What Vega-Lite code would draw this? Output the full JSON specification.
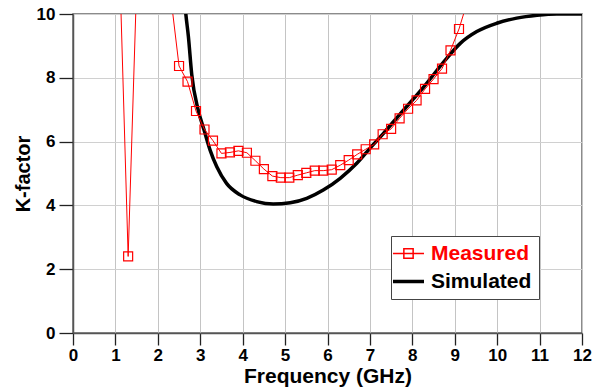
{
  "$schema": "https://vega.github.io/schema/vega-lite/v6.json",
  "width": 509,
  "height": 319,
  "autosize": {"type": "none"},
  "padding": {"left": 73, "top": 14, "right": 21, "bottom": 59},
  "background": "white",
  "config": {
    "font": "Liberation Sans",
    "view": {"stroke": "#666", "strokeWidth": 1.5},
    "axis": {
      "labelFont": "Liberation Sans", "labelFontWeight": "bold", "labelFontSize": 17, "labelColor": "black",
      "titleFont": "Liberation Sans", "titleFontWeight": "bold", "titleColor": "black",
      "domainColor": "#555", "domainWidth": 1.5,
      "ticks": true, "tickOpacity": 1, "tickColor": "#222", "tickWidth": 1.3,
      "labelOverlap": false, "labelFlush": false
    }
  },
  "datasets": {
    "measured": [
      {"f": 1.1, "k": 11.5, "series": "Measured"},
      {"f": 1.3, "k": 2.4, "series": "Measured"},
      {"f": 1.5, "k": 10.9, "series": "Measured"},
      {"f": 1.7, "k": 14, "series": "Measured"},
      {"f": 1.9, "k": 15, "series": "Measured"},
      {"f": 2.1, "k": 13, "series": "Measured"},
      {"f": 2.3, "k": 10.6, "series": "Measured"},
      {"f": 2.5, "k": 8.37, "series": "Measured"},
      {"f": 2.7, "k": 7.88, "series": "Measured"},
      {"f": 2.9, "k": 6.96, "series": "Measured"},
      {"f": 3.1, "k": 6.38, "series": "Measured"},
      {"f": 3.3, "k": 6.03, "series": "Measured"},
      {"f": 3.5, "k": 5.63, "series": "Measured"},
      {"f": 3.7, "k": 5.66, "series": "Measured"},
      {"f": 3.9, "k": 5.71, "series": "Measured"},
      {"f": 4.1, "k": 5.65, "series": "Measured"},
      {"f": 4.3, "k": 5.4, "series": "Measured"},
      {"f": 4.5, "k": 5.14, "series": "Measured"},
      {"f": 4.7, "k": 4.92, "series": "Measured"},
      {"f": 4.9, "k": 4.87, "series": "Measured"},
      {"f": 5.1, "k": 4.87, "series": "Measured"},
      {"f": 5.3, "k": 4.95, "series": "Measured"},
      {"f": 5.5, "k": 5.02, "series": "Measured"},
      {"f": 5.7, "k": 5.09, "series": "Measured"},
      {"f": 5.9, "k": 5.09, "series": "Measured"},
      {"f": 6.1, "k": 5.12, "series": "Measured"},
      {"f": 6.3, "k": 5.26, "series": "Measured"},
      {"f": 6.5, "k": 5.42, "series": "Measured"},
      {"f": 6.7, "k": 5.6, "series": "Measured"},
      {"f": 6.9, "k": 5.76, "series": "Measured"},
      {"f": 7.1, "k": 5.91, "series": "Measured"},
      {"f": 7.3, "k": 6.23, "series": "Measured"},
      {"f": 7.5, "k": 6.4, "series": "Measured"},
      {"f": 7.7, "k": 6.73, "series": "Measured"},
      {"f": 7.9, "k": 7.03, "series": "Measured"},
      {"f": 8.1, "k": 7.29, "series": "Measured"},
      {"f": 8.3, "k": 7.65, "series": "Measured"},
      {"f": 8.5, "k": 7.96, "series": "Measured"},
      {"f": 8.7, "k": 8.29, "series": "Measured"},
      {"f": 8.9, "k": 8.86, "series": "Measured"},
      {"f": 9.1, "k": 9.53, "series": "Measured"},
      {"f": 9.3, "k": 10.4, "series": "Measured"}
    ],
    "simulated": [
      {"f": 2.62, "k": 10.6, "series": "Simulated"},
      {"f": 2.66, "k": 10.0, "series": "Simulated"},
      {"f": 2.72, "k": 9.3, "series": "Simulated"},
      {"f": 2.8, "k": 8.1, "series": "Simulated"},
      {"f": 2.95, "k": 7.0, "series": "Simulated"},
      {"f": 3.09, "k": 6.36, "series": "Simulated"},
      {"f": 3.23, "k": 5.74, "series": "Simulated"},
      {"f": 3.39, "k": 5.21, "series": "Simulated"},
      {"f": 3.62, "k": 4.69, "series": "Simulated"},
      {"f": 3.94, "k": 4.33, "series": "Simulated"},
      {"f": 4.33, "k": 4.12, "series": "Simulated"},
      {"f": 4.72, "k": 4.04, "series": "Simulated"},
      {"f": 5.12, "k": 4.08, "series": "Simulated"},
      {"f": 5.51, "k": 4.22, "series": "Simulated"},
      {"f": 5.9, "k": 4.48, "series": "Simulated"},
      {"f": 6.3, "k": 4.85, "series": "Simulated"},
      {"f": 6.69, "k": 5.32, "series": "Simulated"},
      {"f": 7.0, "k": 5.79, "series": "Simulated"},
      {"f": 7.32, "k": 6.26, "series": "Simulated"},
      {"f": 7.71, "k": 6.86, "series": "Simulated"},
      {"f": 8.26, "k": 7.7, "series": "Simulated"},
      {"f": 8.81, "k": 8.61, "series": "Simulated"},
      {"f": 9.13, "k": 9.08, "series": "Simulated"},
      {"f": 9.52, "k": 9.45, "series": "Simulated"},
      {"f": 9.99, "k": 9.71, "series": "Simulated"},
      {"f": 10.46, "k": 9.87, "series": "Simulated"},
      {"f": 10.94, "k": 9.96, "series": "Simulated"},
      {"f": 11.41, "k": 10.0, "series": "Simulated"},
      {"f": 12, "k": 10.0, "series": "Simulated"}
    ]
  },
  "layer": [
    {
      "data": {"name": "simulated"},
      "mark": {"type": "line", "strokeWidth": 3.5, "interpolate": "monotone", "clip": true},
      "encoding": {
        "x": {
          "field": "f", "type": "quantitative",
          "scale": {"domain": [0, 12], "nice": false},
          "axis": {
            "title": "Frequency (GHz)", "titleFontSize": 21, "titlePadding": 2,
            "values": [0, 0.5, 1, 1.5, 2, 2.5, 3, 3.5, 4, 4.5, 5, 5.5, 6, 6.5, 7, 7.5, 8, 8.5, 9, 9.5, 10, 10.5, 11, 11.5, 12],
            "labelExpr": "datum.value % 1 == 0 ? datum.label : ''",
            "tickSize": 12,
            "tickDash": {"condition": {"test": "datum.value % 1 != 0", "value": [6, 30]}, "value": [30, 0]},
            "gridOpacity": {"condition": {"test": "datum.value % 1 != 0", "value": 0}, "value": 1},
            "gridColor": "#c4c4c4", "gridWidth": 1, "labelPadding": 2
          }
        },
        "y": {
          "field": "k", "type": "quantitative",
          "scale": {"domain": [0, 10], "nice": false},
          "axis": {
            "title": "K-factor", "titleFontSize": 20, "titlePadding": 3,
            "values": [0, 1, 2, 3, 4, 5, 6, 7, 8, 9, 10],
            "labelExpr": "datum.value % 2 == 0 ? datum.label : ''",
            "tickSize": 14,
            "tickDash": {"condition": {"test": "datum.value % 2 != 0", "value": [6, 30]}, "value": [30, 0]},
            "gridOpacity": {"condition": {"test": "datum.value % 2 != 0", "value": 0}, "value": 1},
            "gridColor": "#d0d0d0", "gridWidth": 1, "labelPadding": 4
          }
        },
        "color": {
          "field": "series", "type": "nominal",
          "scale": {"domain": ["Measured", "Simulated"], "range": ["#ff0000", "#000000"]},
          "legend": {
            "title": null, "orient": "none", "legendX": 318, "legendY": 222, "direction": "vertical",
            "fillColor": "white", "strokeColor": "#444", "padding": 7, "rowPadding": 6,
            "labelFont": "Liberation Sans", "labelFontWeight": "bold", "labelFontSize": 21, "labelOffset": 12,
            "symbolSize": 961, "symbolType": "M-1,0H1", "symbolStrokeWidth": 2,
            "encode": {
              "labels": {"update": {"fill": {"signal": "datum.value == 'Measured' ? '#ff0000' : '#000000'"}}},
              "symbols": {"update": {
                "shape": {"signal": "datum.value == 'Measured' ? 'M-1,0H1M-0.3,-0.3H0.3V0.3H-0.3Z' : 'M-1,0H1'"},
                "strokeWidth": {"signal": "datum.value == 'Measured' ? 1.5 : 3.5"},
                "fill": {"value": "transparent"}
              }}
            }
          }
        }
      }
    },
    {
      "data": {"name": "measured"},
      "mark": {"type": "line", "strokeWidth": 1, "clip": true},
      "encoding": {
        "x": {"field": "f", "type": "quantitative"},
        "y": {"field": "k", "type": "quantitative"},
        "color": {"field": "series", "type": "nominal"}
      }
    },
    {
      "data": {"name": "measured"},
      "mark": {"type": "point", "shape": "square", "filled": false, "size": 81, "strokeWidth": 1.2, "opacity": 1, "clip": true},
      "encoding": {
        "x": {"field": "f", "type": "quantitative"},
        "y": {"field": "k", "type": "quantitative"},
        "color": {"field": "series", "type": "nominal"}
      }
    }
  ]
}
